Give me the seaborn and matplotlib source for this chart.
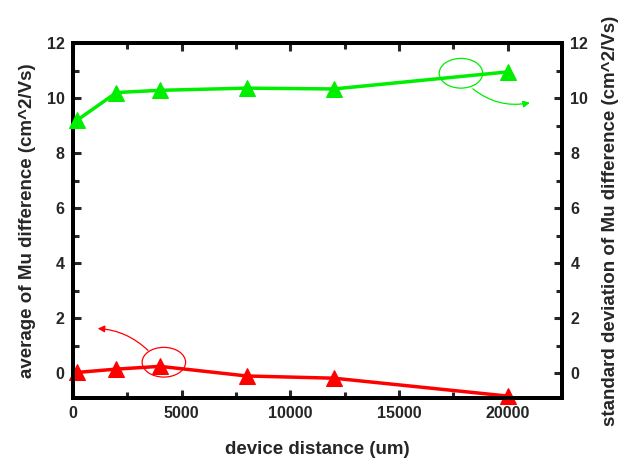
import matplotlib
matplotlib.use("Agg")
import matplotlib.pyplot as plt
from matplotlib.patches import Ellipse
from matplotlib.ticker import MultipleLocator
import seaborn as sns
import pandas as pd

# device separation (um) and mobility difference statistics (cm^2/Vs)
distance = [200, 2000, 4000, 8000, 12000, 20000]
avg_mu_diff = [0.03, 0.15, 0.25, -0.1, -0.18, -0.83]
std_mu_diff = [9.2, 10.2, 10.28, 10.36, 10.33, 10.95]

x_ticks = [0, 5000, 10000, 15000, 20000]
y_ticks = [0, 2, 4, 6, 8, 10, 12]

sns.set_theme(style="white")
plt.rcParams["font.family"] = ["Liberation Sans", "DejaVu Sans"]
plt.rcParams["font.weight"] = "bold"

df = pd.DataFrame({"distance": distance, "avg": avg_mu_diff, "std": std_mu_diff})

fig = plt.figure(figsize=(6.26, 4.75), dpi=100)
ax = fig.add_axes([73 / 626, 1 - 398 / 475, (562 - 73) / 626, (398 - 43) / 475])
ax2 = ax.twinx()

sns.lineplot(data=df, x="distance", y="avg", ax=ax, color="#ff0000", linewidth=2.5,
             marker="^", markersize=11, markeredgecolor="#ff0000", zorder=3,
             clip_on=False)
sns.lineplot(data=df, x="distance", y="std", ax=ax2, color="#00ee00", linewidth=2.5,
             marker="^", markersize=11, markeredgecolor="#00ee00", zorder=3,
             clip_on=False)

for a in (ax, ax2):
    a.set_xlim(0, 22500)
    a.set_ylim(-0.9, 12)
    a.set_yticks(y_ticks)
    a.yaxis.set_minor_locator(MultipleLocator(1))
    for s in a.spines.values():
        s.set_linewidth(2.8)
        s.set_color("black")
        s.set_zorder(2)

ax.set_xticks(x_ticks)
ax.xaxis.set_minor_locator(MultipleLocator(2500))
ax.tick_params(axis="both", which="major", direction="in", length=6, width=2.2,
               labelsize=11.5, top=True, left=True, bottom=True, right=False, pad=6)
ax.tick_params(axis="both", which="minor", direction="in", length=4, width=2.2,
               top=True, left=True, bottom=True, right=False)
ax2.tick_params(axis="y", which="major", direction="in", length=6, width=2.2,
                labelsize=11.5, right=True, pad=6)
ax2.tick_params(axis="y", which="minor", direction="in", length=4, width=2.2, right=True)
for lbl in ax.get_xticklabels() + ax.get_yticklabels() + ax2.get_yticklabels():
    lbl.set_fontweight("bold")

ax.set_xlabel("device distance (um)", fontsize=13.5, fontweight="bold", labelpad=14)
ax.set_ylabel("average of Mu difference (cm^2/Vs)", fontsize=13.5,
              fontweight="bold", labelpad=8)
ax2.set_ylabel("standard deviation of Mu difference (cm^2/Vs)", fontsize=13.5,
               fontweight="bold", rotation=90, labelpad=10)

# callouts linking each curve to its axis
ax2.add_patch(Ellipse((17850, 10.9), 2000, 1.08, fill=False, edgecolor="#00ee00", lw=0.9))
ax2.annotate("", xy=(21150, 9.85), xytext=(18300, 10.4),
             arrowprops=dict(arrowstyle="-|>", color="#00ee00", lw=0.9,
                             connectionstyle="arc3,rad=0.25", mutation_scale=10))
ax.add_patch(Ellipse((4180, 0.4), 2000, 1.08, fill=False, edgecolor="#ff0000", lw=0.9))
ax.annotate("", xy=(1010, 1.63), xytext=(3540, 0.76),
            arrowprops=dict(arrowstyle="-|>", color="#ff0000", lw=0.9,
                            connectionstyle="arc3,rad=0.2", mutation_scale=10))

fig.savefig("out.png", dpi=100)
